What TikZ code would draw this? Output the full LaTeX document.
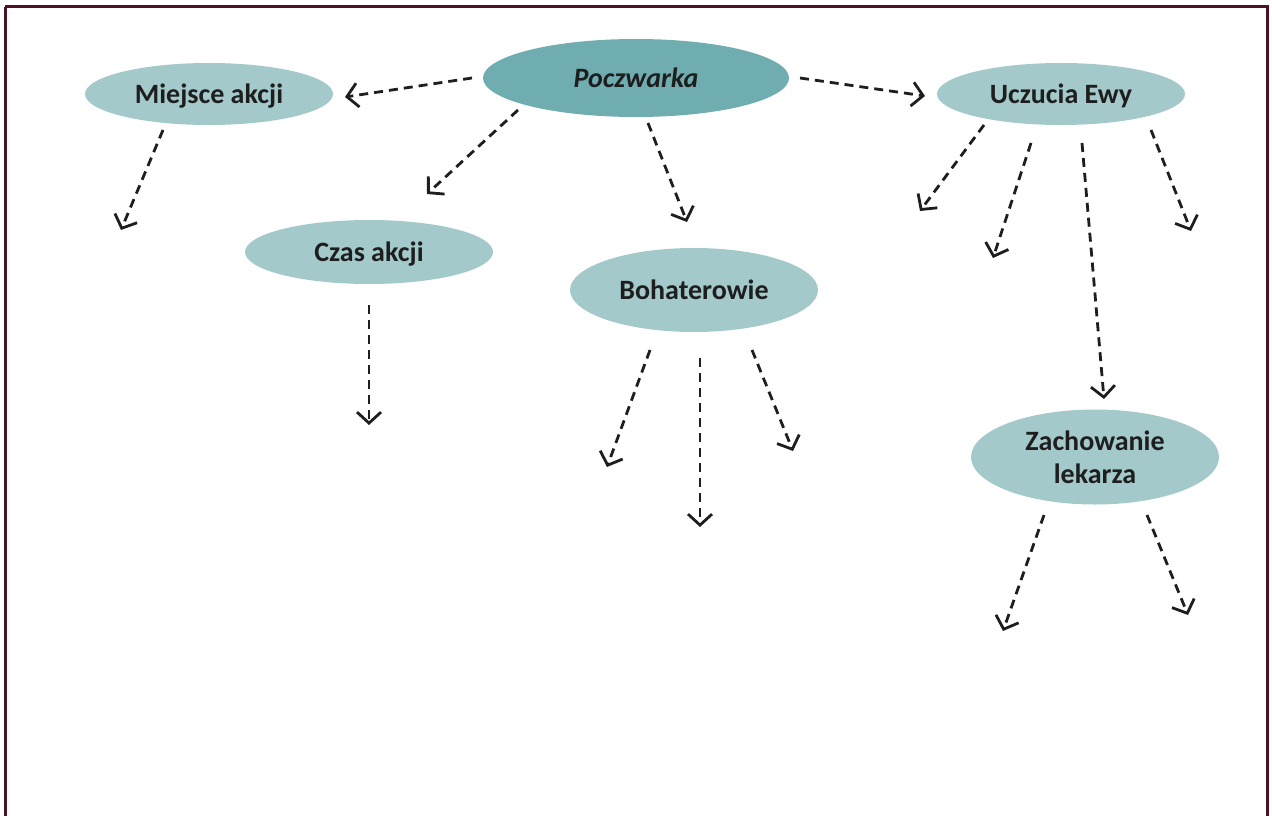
\documentclass[tikz,border=0pt]{standalone}
\usepackage{fontspec}
\setmainfont{Carlito}
\usetikzlibrary{shapes.geometric,arrows.meta}
\definecolor{frame}{HTML}{4A1222}
\definecolor{lightteal}{HTML}{A3C9CB}
\definecolor{darkteal}{HTML}{70ADB0}
\definecolor{ink}{HTML}{1E1E1E}
\begin{document}
\begin{tikzpicture}[x=1pt,y=-1pt,
  bubble/.style={ellipse,fill=lightteal,draw=none,inner sep=0pt,
    minimum width=248pt,minimum height=62pt,text depth=0pt,
    font=\fontsize{28}{33}\selectfont\bfseries,text=ink,align=center},
  mainbubble/.style={bubble,fill=darkteal,minimum width=306pt,minimum height=78pt,
    font=\fontsize{28}{33}\selectfont\bfseries\itshape},
  link/.style={draw=ink,line width=2.8pt,dash pattern=on 9pt off 6pt,
    -{Straight Barb[length=11pt,width=24pt,line width=2.8pt]}}]
\useasboundingbox (0,0) rectangle (1272,816);
\draw[frame,line width=3pt] (5,7) -- (1267,7) -- (1267,830) (5,7) -- (5,830);

\node[mainbubble] (poc) at (636,78) {Poczwarka};
\node[bubble] (mie) at (209,94) {Miejsce akcji};
\node[bubble] (ucz) at (1061,94) {Uczucia Ewy};
\node[bubble,minimum height=64pt] (cza) at (369,252) {Czas akcji};
\node[bubble,minimum height=84pt] (boh) at (694,290) {Bohaterowie};
\node[bubble,minimum height=95pt] (zac) at (1095,457) {Zachowanie\\lekarza};

% start points
\coordinate (s1) at (472,78);
\coordinate (s2) at (800,78);
\coordinate (s3) at (518,110);
\coordinate (s4) at (648,123);
\coordinate (s5) at (163,130);
\coordinate (s6) at (369,305);
\coordinate (s7) at (650,350);
\coordinate (s8) at (700,358);
\coordinate (s9) at (752,350);
\coordinate (s10) at (984,125);
\coordinate (s11) at (1031,143);
\coordinate (s12) at (1082,143);
\coordinate (s13) at (1151,130);
\coordinate (s14) at (1044,515);
\coordinate (s15) at (1147,515);
% end points
\coordinate (e1) at (345,97);
\coordinate (e2) at (925,96);
\coordinate (e3) at (427,194);
\coordinate (e4) at (687,222);
\coordinate (e5) at (121,230);
\coordinate (e6) at (369,425);
\coordinate (e7) at (607,467);
\coordinate (e8) at (700,527);
\coordinate (e9) at (793,451);
\coordinate (e10) at (920,211);
\coordinate (e11) at (993,258);
\coordinate (e12) at (1104,399);
\coordinate (e13) at (1191,231);
\coordinate (e14) at (1003,631);
\coordinate (e15) at (1188,615);

\foreach \i in {1,...,15} {\draw[link] (s\i) -- (e\i);}
\end{tikzpicture}
\end{document}
